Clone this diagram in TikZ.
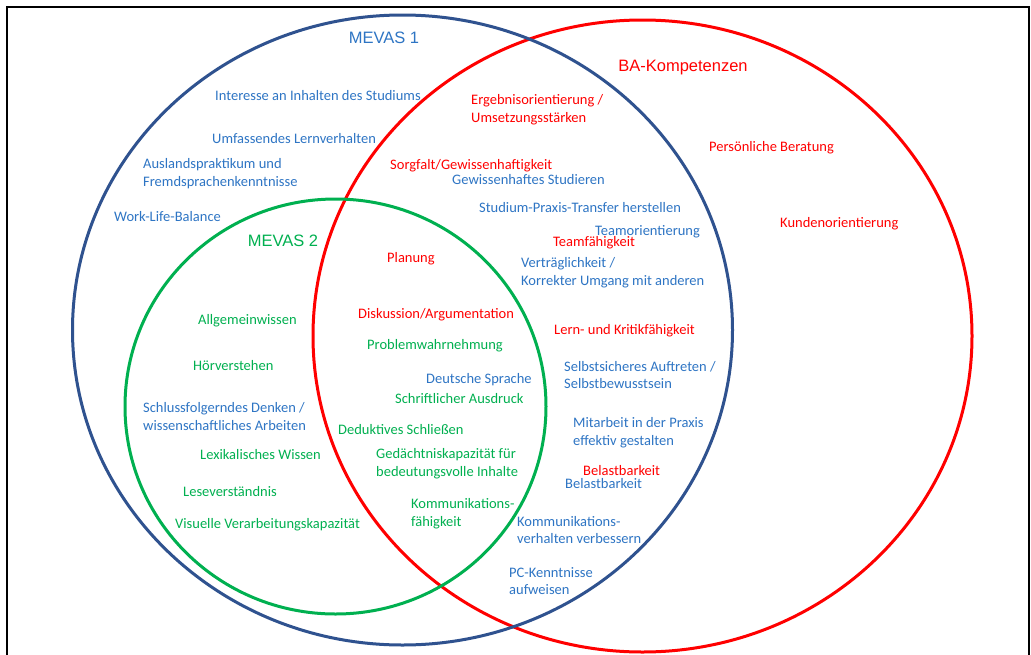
\documentclass[tikz,border=0pt]{standalone}
\usepackage{fontspec}
\setmainfont{Carlito}
\newfontfamily\titlefont{Liberation Sans}
\definecolor{navy}{RGB}{47,82,143}
\definecolor{itemblue}{RGB}{46,117,196}
\definecolor{itemred}{RGB}{255,0,0}
\definecolor{itemgreen}{RGB}{0,176,80}
\tikzset{
  ring/.style={line width=3pt},
  item/.style={anchor=west, inner sep=0pt, font=\fontsize{14.5}{17.5}\selectfont, align=left},
  bl/.style={item, text=itemblue},
  rd/.style={item, text=itemred},
  gr/.style={item, text=itemgreen},
  ttl/.style={inner sep=0pt, font=\titlefont\fontsize{16.5}{20}\selectfont},
}
\begin{document}
\begin{tikzpicture}[x=1pt,y=-1pt]
\useasboundingbox (0,0) rectangle (1031,654);
\fill[white] (0,0) rectangle (1031,654);
\draw[line width=2.5pt] (7,660) -- (7,7) -- (1029,7) -- (1029,660);
% circles
\draw[ring, itemred] (642.5,336) ellipse [x radius=329.5, y radius=316];
\draw[ring, navy] (402.5,330) ellipse [x radius=330, y radius=315];
\draw[ring, itemgreen] (335.5,406.5) ellipse [x radius=210.5, y radius=207.5];
% titles
\node[ttl, text=itemblue] (m1) at (384,38) {MEVAS 1};
\node[ttl, text=itemred] (ba) at (683,68) {BA-Kompetenzen};
\node[ttl, text=itemgreen] (m2) at (283,241) {MEVAS 2};
% MEVAS 1 only
\node[bl] (i1) at (215,96) {Interesse an Inhalten des Studiums};
\node[bl] (i2) at (212,139) {Umfassendes Lernverhalten};
\node[bl] (i3) at (143,173.5) {Auslandspraktikum und\\Fremdsprachenkenntnisse};
\node[bl] (i4) at (114,217) {Work-Life-Balance};
% BA only
\node[rd] (b1) at (709,148) {Persönliche Beratung};
\node[rd] (b2) at (780,224) {Kundenorientierung};
% MEVAS1 & BA
\node[rd] (c1) at (471,109.5) {Ergebnisorientierung /\\Umsetzungsstärken};
\node[rd] (c2) at (390,166) {Sorgfalt/Gewissenhaftigkeit};
\node[bl] (c3) at (452,180) {Gewissenhaftes Studieren};
\node[bl] (c4) at (479,208) {Studium-Praxis-Transfer herstellen};
\node[bl] (c5) at (595,232) {Teamorientierung};
\node[rd] (c6) at (553,243) {Teamfähigkeit};
\node[bl] (c7) at (521,272.5) {Verträglichkeit /\\Korrekter Umgang mit anderen};
\node[rd] (c8) at (554,331) {Lern- und Kritikfähigkeit};
\node[bl] (c9) at (564,375) {Selbstsicheres Auftreten /\\Selbstbewusstsein};
\node[bl] (c10) at (573,432.5) {Mitarbeit in der Praxis\\effektiv gestalten};
\node[rd] (c11) at (583,471) {Belastbarkeit};
\node[bl] (c12) at (565,484) {Belastbarkeit};
\node[bl] (c13) at (517,530) {Kommunikations-\\verhalten verbessern};
\node[bl] (c14) at (509,581) {PC-Kenntnisse\\aufweisen};
% all three
\node[rd] (a1) at (387,259) {Planung};
\node[rd] (a2) at (358,315) {Diskussion/Argumentation};
\node[gr] (a3) at (367,346) {Problemwahrnehmung};
\node[bl] (a4) at (426,380) {Deutsche Sprache};
\node[gr] (a5) at (395,399) {Schriftlicher Ausdruck};
\node[gr] (a6) at (338,430) {Deduktives Schließen};
\node[gr] (a7) at (376,463.5) {Gedächtniskapazität für\\bedeutungsvolle Inhalte};
\node[gr] (a8) at (411,513.5) {Kommunikations-\\fähigkeit};
% MEVAS 2 only
\node[gr] (g1) at (198,321) {Allgemeinwissen};
\node[gr] (g2) at (193,366) {Hörverstehen};
\node[bl] (g3) at (143,416.5) {Schlussfolgerndes Denken /\\wissenschaftliches Arbeiten};
\node[gr] (g4) at (200,455) {Lexikalisches Wissen};
\node[gr] (g5) at (183,492) {Leseverständnis};
\node[gr] (g6) at (175,525) {Visuelle Verarbeitungskapazität};
\end{tikzpicture}
\end{document}
